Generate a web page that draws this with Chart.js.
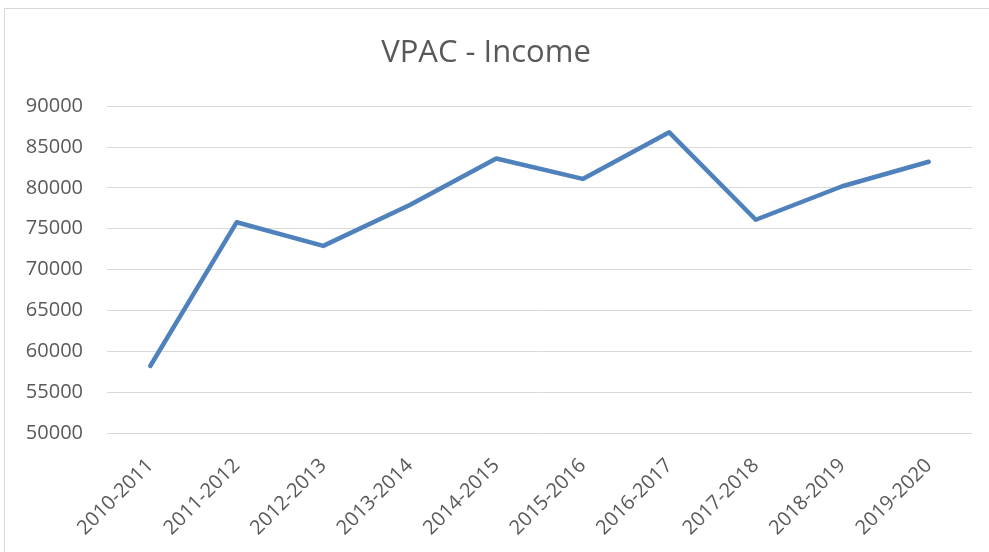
<!DOCTYPE html>
<html>
<head>
<meta charset="utf-8">
<title>VPAC - Income</title>
<script src="https://cdn.jsdelivr.net/npm/chart.js@4.4.1/dist/chart.umd.min.js"></script>
<style>
  html, body { margin: 0; padding: 0; background: #fff; overflow: hidden; }
  #wrap { position: absolute; left: 0; top: 0; width: 989px; height: 552px; }
  #frame {
    position: absolute; left: 4px; top: 8px; width: 1100px; height: 700px;
    border: 1px solid #d9d9d9; pointer-events: none;
  }
</style>
</head>
<body>
<div id="wrap"><canvas id="ch_income"></canvas></div>
<div id="frame"></div>
<script>
// financial years on the x axis
const years = ['2010-2011', '2011-2012', '2012-2013', '2013-2014', '2014-2015',
               '2015-2016', '2016-2017', '2017-2018', '2018-2019', '2019-2020'];
// income per year
const income = [58200, 75800, 72900, 77900, 83600, 81100, 86800, 76100, 80200, 83200];
// y axis range / step
const yMin = 50000, yMax = 90000, yStep = 5000;

const FONT = "'Open Sans', 'Liberation Sans', sans-serif";
const GREY = '#595959';

new Chart(document.getElementById('ch_income').getContext('2d'), {
  type: 'line',
  data: {
    labels: years,
    datasets: [{
      label: 'Income',
      data: income,
      borderColor: '#4f81bd',
      backgroundColor: '#4f81bd',
      borderWidth: 4.5,
      borderCapStyle: 'round',
      borderJoinStyle: 'round',
      pointRadius: 0,
      tension: 0,
      fill: false
    }]
  },
  options: {
    responsive: true,
    maintainAspectRatio: false,
    animation: false,
    layout: { padding: { left: 0, right: 17, top: 0, bottom: 0 } },
    plugins: {
      legend: { display: false },
      tooltip: { enabled: false },
      title: {
        display: true,
        text: 'VPAC - Income',
        color: GREY,
        font: { family: FONT, size: 31, weight: 'normal' },
        padding: { top: 35, bottom: 34 }
      }
    },
    scales: {
      x: {
        offset: true,
        grid: { display: false },
        border: { display: false },
        ticks: {
          color: GREY, font: { family: FONT, size: 20 },
          minRotation: 45, maxRotation: 45, autoSkip: false, padding: 13
        },
        afterFit: s => { s.height = 119; }
      },
      y: {
        min: yMin, max: yMax,
        grid: { color: '#d9d9d9', lineWidth: 1, drawTicks: false },
        border: { display: false },
        ticks: {
          stepSize: yStep, color: GREY, padding: 24,
          font: { family: FONT, size: 20 },
          callback: v => String(v)
        },
        afterFit: s => { s.width = 107; }
      }
    }
  }
});
</script>
</body>
</html>
